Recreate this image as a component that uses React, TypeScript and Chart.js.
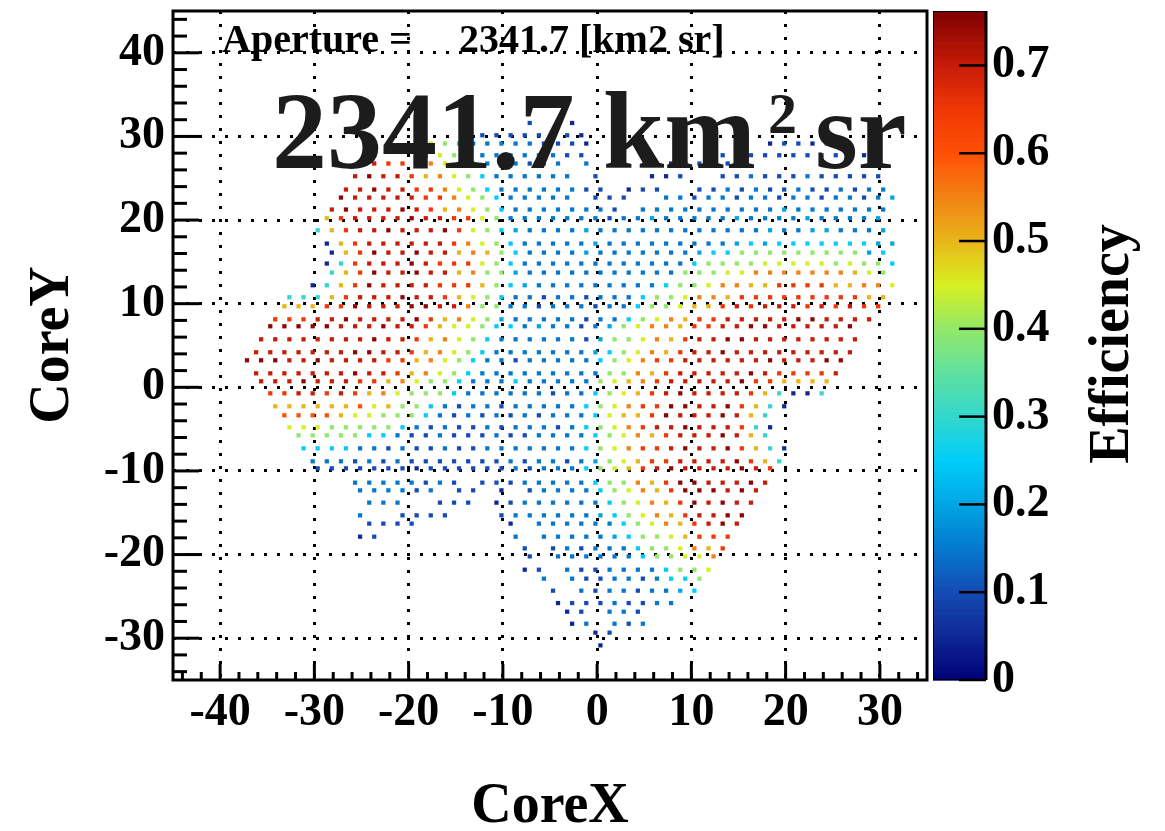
import React, { useEffect, useRef } from 'react';
import { Chart, registerables } from 'chart.js';

Chart.register(...registerables);

// ---------------- data ----------------
const X_TICKS = [-40, -30, -20, -10, 0, 10, 20, 30];
const Y_TICKS = [-30, -20, -10, 0, 10, 20, 30, 40];
const Z_TICKS = [0, 0.1, 0.2, 0.3, 0.4, 0.5, 0.6, 0.7];
const X_RANGE = [-45, 35];
const Y_RANGE = [-35, 45];
const Z_MAX = 0.762;
const APERTURE = '2341.7';
const LATTICE_PITCH = 1.5; // CoreX spacing between neighbouring cells of a row

// CoreY of each row of filled cells (top to bottom)
const ROW_Y = [
  31.61, 30.14, 29.15, 27.75, 26.76, 25.24, 23.65, 22.69, 21.26, 20.22,
  18.78, 17.19, 16.11, 14.8, 13.72, 12.2, 10.77, 9.69, 8.13, 7.3,
  5.74, 4.19, 3.23, 1.67, 0.72, -0.72, -2.27, -3.35, -4.78, -5.74,
  -7.3, -8.85, -9.69, -11.4, -12.32, -13.79, -15.31, -16.3, -17.86, -19.26,
  -20.22, -21.81, -22.88, -24.32, -25.8, -26.83, -28.27, -29.34, -30.86,
];

// CoreX of lattice site 0 of each row
const ROW_X0 = [
  -37.15, -36.18, -37.15, -36.18, -37.15, -36.18, -37.15, -36.18, -37.15, -36.18,
  -37.15, -36.18, -37.15, -36.18, -37.15, -36.18, -37.15, -36.18, -37.15, -36.18,
  -37.15, -36.18, -37.15, -36.18, -37.15, -36.18, -37.15, -36.18, -37.15, -36.18,
  -37.15, -36.18, -37.15, -36.18, -37.15, -36.18, -37.15, -36.18, -37.15, -36.18,
  -37.15, -36.18, -37.15, -36.18, -37.15, -36.18, -37.15, -36.18, -37.15,
];

// first lattice site used by each row
const ROW_FIRST = [
  20, 16, 13, 12, 8, 7, 7, 6, 6, 5,
  5, 5, 6, 5, 6, 4, 3, 2, 2, 1,
  1, 0, 0, 0, 1, 1, 2, 2, 3, 3,
  4, 4, 5, 7, 8, 8, 8, 8, 8, 19,
  20, 19, 21, 21, 22, 22, 23, 24, 25,
];

// efficiency of each cell: hex digit x 0.05, '.' = empty bin
const ROW_CODES = [
  '2.21',
  '22222.21',
  '985333332221............122121',
  'C98433333322........122222222221',
  'EEDDAB985333233.3.....12222',
  'EFEEDAB985333333.2...112..223222322222',
  'EEFEEDDB98533333322.122..22323223223233',
  'FEEEEEDDB98533333.222..33233233233233234',
  'EFEEEFEDAB98533333332.333333333343333333',
  'ADEEEEFEEDD98333333323343333343333433334',
  '6ADEEFEEEFD985433334333333333333433443334',
  '1ADEEEEEEDB985333334333333333454555555544',
  '1ADFEEFEEABA8533334333333345588888888845',
  '16DEEEFEDDD985333333333333588889999989885',
  '6ADFEEFEEAB8843333333333388899BBBBBBBA98',
  '16ADFEEEEDDDA8543333333335889BBAADDDDAABB9',
  '666ADEEEFEEDA9853323323335889BBADDDDDDDDDAA',
  'AAADDFEEEFFEEB883323332335889AADEDEEEDEDEDD',
  'DDDEEFEEEEFDAB98433333233589BADDEEEEEFFEEEE',
  'FFFFFEEEFEEDA99855343323489BBADDEEFFEEEEEF',
  'EEEEEEEEFEEDAB98533333324889BADEEFFEEEEEEEE',
  'EEEEEEEFFEEDAB98533333334589BADEEFEEEEEEEEE',
  'FFFEEFEEEEDDAB98533233333589BDDEEEEEEFEEEFF',
  'EEEEEEEFEEDAB98533333333388BADEEEEEFEDDDDE',
  'EEEFEEEDDAB988533353333389ABDEEEEEFDDAAAA',
  'DDEEDEDAB98885333333233589ADEFEEEEDA6116',
  'AAAAAAC9A8853233233333589BDDFFEEFDA61',
  'CCCCA9988853232323233359AADFEEEFEA6',
  '999888885323223233323589BDEEFEEED61',
  '888885532232223223333589BADEEEFEA6',
  '55553323223223333333589BDDEFEEFDA61',
  '33323232222222323323489ADDEEEEFDA6',
  '2222222122222232333589ADEFEEEEFED',
  '33333232.22233333588BADFFEEEFE',
  '333323.22.1.23333589BADFFFEFE',
  '333..222.12333333589BADFEFEE',
  '3..2222...23333334589BADEEFF',
  '2222......1.333333589BADEFE',
  '12.........3.3333345889ADDD',
  '2.2323335889BAD',
  '2.33333358899B',
  '12.32233335889',
  '3.3223323558',
  '2.323323345',
  '122232233',
  '12.332',
  '13.323',
  '12',
  '1',
];

// ---------------- style ----------------
const SERIF = "'Liberation Serif', 'Times New Roman', 'DejaVu Serif', serif";
const PALETTE: number[][] = [
  [0.0, 0, 0, 120],
  [0.05, 15, 40, 150],
  [0.1, 20, 75, 180],
  [0.15, 5, 120, 205],
  [0.2, 0, 165, 228],
  [0.25, 0, 205, 250],
  [0.3, 50, 215, 205],
  [0.35, 95, 225, 160],
  [0.4, 145, 232, 105],
  [0.45, 215, 240, 35],
  [0.5, 232, 182, 25],
  [0.55, 242, 130, 20],
  [0.6, 255, 80, 5],
  [0.65, 240, 55, 5],
  [0.7, 200, 28, 8],
  [0.762, 128, 0, 0],
];

function effColor(v: number): string {
  const p = PALETTE;
  if (v <= p[0][0]) return `rgb(${p[0][1]},${p[0][2]},${p[0][3]})`;
  for (let i = 1; i < p.length; i++) {
    if (v <= p[i][0]) {
      const a = p[i - 1];
      const b = p[i];
      const t = (v - a[0]) / (b[0] - a[0]);
      const r = Math.round(a[1] + (b[1] - a[1]) * t);
      const g = Math.round(a[2] + (b[2] - a[2]) * t);
      const bl = Math.round(a[3] + (b[3] - a[3]) * t);
      return `rgb(${r},${g},${bl})`;
    }
  }
  const l = p[p.length - 1];
  return `rgb(${l[1]},${l[2]},${l[3]})`;
}

function zeroPadding(s: any) {
  s.paddingTop = 0;
  s.paddingBottom = 0;
  s.paddingLeft = 0;
  s.paddingRight = 0;
}

const overlayPlugin = {
  id: 'rootOverlay',
  afterDraw(chart: any) {
    const { ctx, chartArea: ca, scales } = chart;
    const xs = scales.x;
    const ys = scales.y;
    const zs = scales.z;
    ctx.save();

    // colour bar
    const barL = ca.right + 6;
    const barR = ca.right + 59;
    const N = 300;
    for (let i = 0; i < N; i++) {
      const v0 = (Z_MAX * i) / N;
      const v1 = (Z_MAX * (i + 1)) / N;
      const yA = zs.getPixelForValue(v0);
      const yB = zs.getPixelForValue(v1);
      ctx.fillStyle = effColor((v0 + v1) / 2);
      ctx.fillRect(barL, yB, barR - barL, yA - yB + 0.7);
    }
    ctx.strokeStyle = '#000';
    ctx.lineWidth = 1;
    ctx.strokeRect(barL + 0.5, ca.top + 0.5, barR - barL - 1, ca.bottom - ca.top - 1);
    ctx.lineWidth = 3;
    ctx.beginPath();
    ctx.moveTo(barR, ca.top);
    ctx.lineTo(barR, ca.bottom);
    ctx.stroke();
    ctx.lineWidth = 2.5;
    Z_TICKS.forEach((v) => {
      const y = zs.getPixelForValue(v);
      ctx.beginPath();
      ctx.moveTo(barR - 27, y);
      ctx.lineTo(barR, y);
      ctx.stroke();
    });

    // frame
    ctx.lineWidth = 3;
    ctx.strokeRect(ca.left, ca.top, ca.right - ca.left, ca.bottom - ca.top);

    // inward ticks (major every 10, minor every 2)
    ctx.lineWidth = 3;
    for (let v = Y_RANGE[0] + 1; v < Y_RANGE[1]; v += 2) {
      const y = ys.getPixelForValue(v);
      const len = v % 10 === 0 ? 26 : 14;
      ctx.beginPath();
      ctx.moveTo(ca.left, y);
      ctx.lineTo(ca.left + len, y);
      ctx.stroke();
    }
    for (let v = X_RANGE[0] + 1; v < X_RANGE[1]; v += 2) {
      const x = xs.getPixelForValue(v);
      const len = v % 10 === 0 ? 16 : 8;
      ctx.beginPath();
      ctx.moveTo(x, ca.bottom);
      ctx.lineTo(x, ca.bottom - len);
      ctx.stroke();
    }

    // aperture statement
    ctx.fillStyle = '#000';
    ctx.textAlign = 'left';
    ctx.textBaseline = 'alphabetic';
    ctx.font = `bold 40px ${SERIF}`;
    ctx.fillText('Aperture =', 222, 52);
    ctx.fillText(`${APERTURE} [km2 sr]`, 459, 52);

    // big label
    ctx.fillStyle = '#1c1c1c';
    ctx.font = `bold 110px ${SERIF}`;
    ctx.fillText(APERTURE, 272, 168);
    ctx.fillText('km', 603, 168);
    ctx.font = `bold 58px ${SERIF}`;
    ctx.fillText('2', 768, 133);
    ctx.font = `bold 110px ${SERIF}`;
    ctx.fillText('sr', 815, 168);

    // axis titles
    ctx.fillStyle = '#000';
    ctx.font = `bold 56px ${SERIF}`;
    ctx.textAlign = 'center';
    ctx.fillText('CoreX', 550, 822);
    ctx.save();
    ctx.translate(68, 345);
    ctx.rotate(-Math.PI / 2);
    ctx.fillText('CoreY', 0, 0);
    ctx.restore();
    ctx.save();
    ctx.translate(1128, 344);
    ctx.rotate(-Math.PI / 2);
    ctx.fillText('Efficiency', 0, 0);
    ctx.restore();

    ctx.restore();
  },
};

export default function App() {
  const canvasRef = useRef<HTMLCanvasElement | null>(null);

  useEffect(() => {
    document.body.style.margin = '0';
    const canvas = canvasRef.current;
    if (!canvas) return;

    const points: { x: number; y: number }[] = [];
    const values: number[] = [];
    ROW_CODES.forEach((codes, r) => {
      for (let k = 0; k < codes.length; k++) {
        const ch = codes[k];
        if (ch === '.') continue;
        points.push({ x: ROW_X0[r] + LATTICE_PITCH * (ROW_FIRST[r] + k), y: ROW_Y[r] });
        values.push(parseInt(ch, 16) * 0.05);
      }
    });
    const colors = values.map(effColor);

    const tickFont = { family: SERIF, size: 46, weight: 'bold' as const };

    const chart = new Chart(canvas, {
      type: 'scatter',
      data: {
        datasets: [
          {
            data: points,
            pointStyle: 'rect',
            pointRadius: 3,
            pointHoverRadius: 3,
            pointBorderWidth: 0,
            backgroundColor: colors,
            pointBackgroundColor: colors,
            showLine: false,
          } as any,
        ],
      },
      options: {
        animation: false,
        responsive: false,
        maintainAspectRatio: false,
        events: [],
        layout: { padding: { top: 11, left: 0, right: 0, bottom: 0 } },
        plugins: {
          legend: { display: false },
          tooltip: { enabled: false },
          title: { display: false },
        },
        scales: {
          x: {
            type: 'linear',
            position: 'bottom',
            min: X_RANGE[0],
            max: X_RANGE[1],
            z: 1,
            afterFit: (s: any) => {
              s.height = 151;
              zeroPadding(s);
            },
            afterBuildTicks: (s: any) => {
              s.ticks = X_TICKS.map((v) => ({ value: v }));
            },
            ticks: {
              autoSkip: false,
              maxRotation: 0,
              minRotation: 0,
              color: '#000',
              font: tickFont,
              padding: 6,
              callback: (v: any) => String(v),
            },
            grid: { color: '#000', lineWidth: 3, drawTicks: false },
            border: { display: false, dash: [3, 10] },
          } as any,
          y: {
            type: 'linear',
            position: 'left',
            min: Y_RANGE[0],
            max: Y_RANGE[1],
            z: 1,
            afterFit: (s: any) => {
              s.width = 173;
              zeroPadding(s);
            },
            afterBuildTicks: (s: any) => {
              s.ticks = Y_TICKS.map((v) => ({ value: v }));
            },
            ticks: {
              autoSkip: false,
              color: '#000',
              font: tickFont,
              padding: 8,
              callback: (v: any) => String(v),
            },
            grid: { color: '#000', lineWidth: 3, drawTicks: false },
            border: { display: false, dash: [3, 10] },
          } as any,
          z: {
            type: 'linear',
            position: 'right',
            min: 0,
            max: Z_MAX,
            afterFit: (s: any) => {
              s.width = 238;
              zeroPadding(s);
            },
            afterBuildTicks: (s: any) => {
              s.ticks = Z_TICKS.map((v) => ({ value: v }));
            },
            ticks: {
              autoSkip: false,
              color: '#000',
              font: tickFont,
              padding: 65,
              callback: (v: any) => (v === 0 ? '0' : Number(v).toFixed(1)),
            },
            grid: { display: false, drawTicks: false },
            border: { display: false },
          } as any,
        },
      },
      plugins: [overlayPlugin],
    });

    return () => {
      chart.destroy();
    };
  }, []);

  return (
    <div style={{ width: 1165, height: 831, overflow: 'hidden' }}>
      <style>{'body{margin:0;}'}</style>
      <canvas ref={canvasRef} width={1165} height={831} style={{ display: 'block' }} />
    </div>
  );
}
